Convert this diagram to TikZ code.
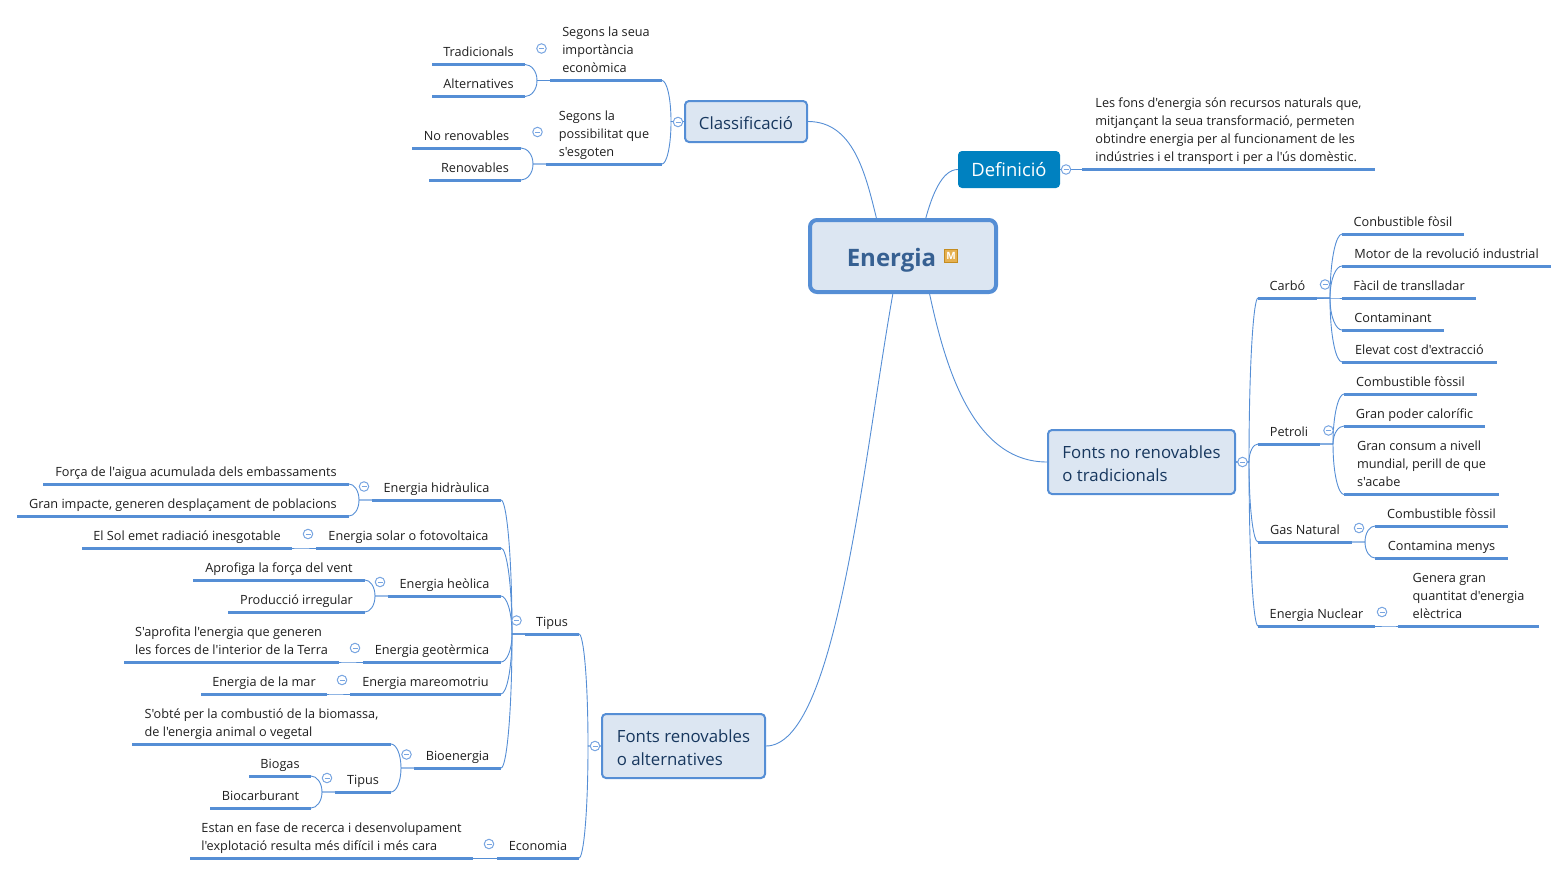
\documentclass[tikz,border=0pt]{standalone}
\usepackage{fontspec}
\setmainfont[Ligatures=TeXOff]{Open Sans}
\usepackage{tikz}
\usetikzlibrary{calc,positioning}
\definecolor{mylink}{RGB}{85,142,213}
\definecolor{myfill}{RGB}{220,230,242}
\definecolor{myink}{RGB}{23,55,94}
\definecolor{myroot}{RGB}{54,96,146}
\definecolor{mydef}{RGB}{0,129,192}
\definecolor{myiconfill}{RGB}{229,176,80}
\definecolor{myiconedge}{RGB}{196,140,32}
\definecolor{mymark}{RGB}{120,165,225}
\tikzstyle{topic}=[anchor=south west,inner xsep=0pt,inner ysep=4pt,outer sep=0pt,text depth=4pt,align=left,text=black!88,font=\fontsize{12.7}{18}\selectfont,minimum width=#1]
\tikzstyle{boxed}=[draw=mylink,fill=myfill,line width=2pt,rounded corners=4pt,align=left,text=myink,font=\fontsize{16.8}{23}\selectfont,inner sep=0pt,execute at begin node=\rule{0pt}{17pt}]
\tikzstyle{boxtwo}=[boxed,execute at begin node={}]
\tikzstyle{rootbox}=[boxed,line width=4pt,rounded corners=7pt,text=myroot,font=\fontsize{24}{30}\selectfont\bfseries,text depth=0pt,execute at begin node=\rule{0pt}{21pt}]
\tikzstyle{defbox}=[fill=mydef,rounded corners=4pt,text=white,font=\fontsize{18.4}{23}\selectfont,inner sep=0pt]
\tikzstyle{iconbox}=[draw=myiconedge,fill=myiconfill,line width=1pt,text=white,inner sep=0pt,minimum size=13pt,font=\fontsize{10}{10}\selectfont\bfseries]
\tikzstyle{collapse}=[draw=mymark,fill=white,circle,line width=1pt,minimum size=9.5pt,inner sep=0pt,text=mymark]
\tikzstyle{link}=[draw=mylink,line width=0.9pt]
\tikzset{fork/.style={to path={-- ($(\tikztostart)+(#1,0)$) coordinate (jn) .. controls ($(jn)!0.6!(jn |- \tikztotarget)$) and ($(jn |- \tikztotarget)!0.5!(\tikztotarget)$) .. (\tikztotarget)}}}
\newcommand{\minusmark}{\rule{5pt}{0.8pt}}
\begin{document}
\begin{tikzpicture}[x=1pt,y=-1pt]
\useasboundingbox (0,0) rectangle (1568,875);
% main boxes
\draw (903, 256) node [rootbox, minimum width=186, minimum height=72] (energia) {Energia\hspace{23pt}};
\draw (951, 256) node [iconbox] (icon) {M};
\draw (746, 121.5) node [boxed, minimum width=122, minimum height=41] (classif) {Classificació};
\draw (1009, 169.5) node [defbox, minimum width=102, minimum height=37] (defin) {Definició};
\draw (1141.5, 462) node [boxtwo, minimum width=187, minimum height=64] (norenov) {\rule{0pt}{17pt}Fonts no renovables\\o tradicionals};
\draw (683.5, 746) node [boxtwo, minimum width=163, minimum height=64] (renov) {\rule{0pt}{17pt}Fonts renovables\\o alternatives};
% classification
\draw (550, 80.5) node [topic=112] (seg1) {Segons la seua\\importància\\econòmica};
\draw (546, 164) node [topic=116] (seg2) {Segons la\\possibilitat que\\s'esgoten};
\draw (432, 64.5) node [topic=93] (trad) {Tradicionals};
\draw (432, 96.5) node [topic=93] (altern) {Alternatives};
\draw (412, 148) node [topic=109] (nren) {No renovables};
\draw (429, 180) node [topic=92] (ren) {Renovables};
% definition
\draw (1082, 169.5) node [topic=293] (deftext) {Les fons d'energia són recursos naturals que,\\mitjançant la seua transformació, permeten\\obtindre energia per al funcionament de les\\indústries i el transport i per a l'ús domèstic.};
% non renewable
\draw (1258, 298) node [topic=59] (carbo) {Carbó};
\draw (1258, 444) node [topic=62] (petroli) {Petroli};
\draw (1258, 542) node [topic=94] (gas) {Gas Natural};
\draw (1258, 626) node [topic=117] (nuclear) {Energia Nuclear};
\draw (1342, 234) node [topic=122] (c1) {Conbustible fòsil};
\draw (1342, 266) node [topic=209] (c2) {Motor de la revolució industrial};
\draw (1342, 298) node [topic=134] (c3) {Fàcil de translladar};
\draw (1342, 330) node [topic=102] (c4) {Contaminant};
\draw (1342, 362) node [topic=155] (c5) {Elevat cost d'extracció};
\draw (1344, 394) node [topic=133] (p1) {Combustible fòssil};
\draw (1344, 426) node [topic=141] (p2) {Gran poder calorífic};
\draw (1344, 494.5) node [topic=155] (p3) {Gran consum a nivell\\mundial, perill de que\\s'acabe};
\draw (1375, 526) node [topic=133] (g1) {Combustible fòssil};
\draw (1375, 558) node [topic=133] (g2) {Contamina menys};
\draw (1398, 626) node [topic=141] (n1) {Genera gran\\quantitat d'energia\\elèctrica};
% renewable
\draw (525, 634) node [topic=54] (tipus) {Tipus};
\draw (497, 858) node [topic=82] (econ) {Economia};
\draw (372, 500) node [topic=129] (hidra) {Energia hidràulica};
\draw (316, 548) node [topic=185] (solar) {Energia solar o fotovoltaica};
\draw (388, 596) node [topic=113] (heol) {Energia heòlica};
\draw (363, 662) node [topic=138] (geo) {Energia geotèrmica};
\draw (350, 694) node [topic=151] (mare) {Energia mareomotriu};
\draw (414, 768) node [topic=87] (bio) {Bioenergia};
\draw (43, 484) node [topic=306] (h1) {Força de l'aigua acumulada dels embassaments};
\draw (17, 516) node [topic=332] (h2) {Gran impacte, generen desplaçament de poblacions};
\draw (82, 548) node [topic=210] (s1) {El Sol emet radiació inesgotable};
\draw (193, 580) node [topic=172] (e1) {Aprofiga la força del vent};
\draw (228, 612) node [topic=137] (e2) {Producció irregular};
\draw (124, 662) node [topic=215] (t1) {S'aprofita l'energia que generen\\les forces de l'interior de la Terra};
\draw (201, 694) node [topic=126] (m1) {Energia de la mar};
\draw (132, 744) node [topic=259] (b1) {S'obté per la combustió de la biomassa,\\de l'energia animal o vegetal};
\draw (335, 792) node [topic=56] (biotipus) {Tipus};
\draw (249, 776) node [topic=62] (biogas) {Biogas};
\draw (210, 808) node [topic=101] (biocarb) {Biocarburant};
\draw (190, 858) node [topic=283] (ec1) {Estan en fase de recerca i desenvolupament\\l'explotació resulta més difícil i més cara};
% underlines
\foreach \n in {seg1,seg2,trad,altern,nren,ren,deftext,carbo,petroli,gas,nuclear,c1,c2,c3,c4,c5,p1,p2,p3,g1,g2,n1,tipus,econ,hidra,solar,heol,geo,mare,bio,h1,h2,s1,e1,e2,t1,m1,b1,biotipus,biogas,biocarb,ec1}
  \draw[mylink, line width=3pt] (\n.south west) -- (\n.south east);
% main branches
\draw[link] (classif.east) .. controls +(45,0) and +(-11,-45) .. (energia.125);
\draw[link] (defin.west) .. controls +(-16,0) and +(6,-22) .. (energia.59);
\draw[link] (norenov.west) .. controls +(-75,0) and +(15,70) .. (energia.-55);
\draw[link] (renov.east) .. controls +(70,0) and +(-30,170) .. (energia.-105);
% forks
\foreach \a/\b in {seg1/trad,seg1/altern,seg2/nren,seg2/ren,hidra/h1,hidra/h2,solar/s1,heol/e1,heol/e2,geo/t1,mare/m1,bio/b1,bio/biotipus,biotipus/biogas,biotipus/biocarb,econ/ec1}
  \draw[link] (\a.south west) to[fork=-13] (\b.south east);
\foreach \b in {tipus,econ}
  \draw[link] (renov.west) to[fork=-13] (\b.south east);
\foreach \b in {hidra,solar,heol,geo,mare,bio}
  \draw[link] (tipus.south west) to[fork=-13] (\b.south east);
\foreach \b in {seg1,seg2}
  \draw[link] (classif.west) to[fork=-13] (\b.south east);
\draw[link] (defin.east) -- (deftext.south west);
\foreach \b in {carbo,petroli,gas,nuclear}
  \draw[link] (norenov.east) to[fork=13] (\b.south west);
\foreach \a/\b in {carbo/c1,carbo/c2,carbo/c3,carbo/c4,carbo/c5,petroli/p1,petroli/p2,petroli/p3,gas/g1,gas/g2,nuclear/n1}
  \draw[link] (\a.south east) to[fork=13] (\b.south west);
% collapse marks
\foreach \n/\x/\y in {mk1/678/122,mk2/541.5/48.5,mk3/537.5/132,mk4/1066/169.5,mk5/1242.5/462,mk6/1325/284.5,mk7/1328.5/430.5,mk8/1359/528,mk9/1382/612,mk10/595/746,mk11/516.5/620.5,mk12/489/844,mk13/364/486.5,mk14/308/534,mk15/380/582,mk16/355/648,mk17/342/680,mk18/406.5/754.5,mk19/327/778}
  \node[collapse] (\n) at (\x,\y) {\minusmark};
\end{tikzpicture}
\end{document}
